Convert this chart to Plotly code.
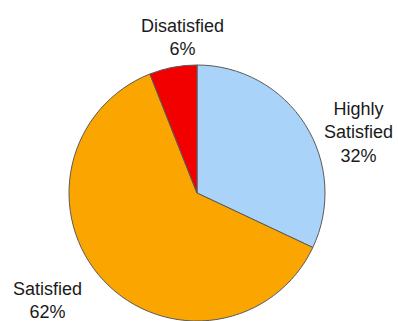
import plotly.graph_objects as go

labels = ["Highly Satisfied", "Satisfied", "Disatisfied"]
values = [32, 62, 6]
colors = ["#a9d3f8", "#fba500", "#f20000"]
label_text = ["Highly<br>Satisfied<br>32%", "Satisfied<br>62%", "Disatisfied<br>6%"]
label_px = [(358, 133), (47, 300), (182, 37)]

W, H = 398, 321
fig = go.Figure(go.Pie(
    labels=labels, values=values, sort=False, direction="clockwise", rotation=0,
    marker=dict(colors=colors, line=dict(color="#5a5a5a", width=1)),
    textinfo="none", hoverinfo="label+percent",
    domain=dict(x=[69 / W, 325 / W], y=[0, (H - 65) / H]),
))

for txt, (px, py) in zip(label_text, label_px):
    fig.add_annotation(x=px / W, y=1 - py / H, xref="paper", yref="paper",
                       text=txt, showarrow=False, xanchor="center", yanchor="middle",
                       font=dict(family="Liberation Sans, Arial, sans-serif", size=18, color="#1a1a1a"))

fig.update_layout(width=W, height=H, margin=dict(l=0, r=0, t=0, b=0),
                  showlegend=False, paper_bgcolor="white", plot_bgcolor="white")
fig.write_html("out.html")
